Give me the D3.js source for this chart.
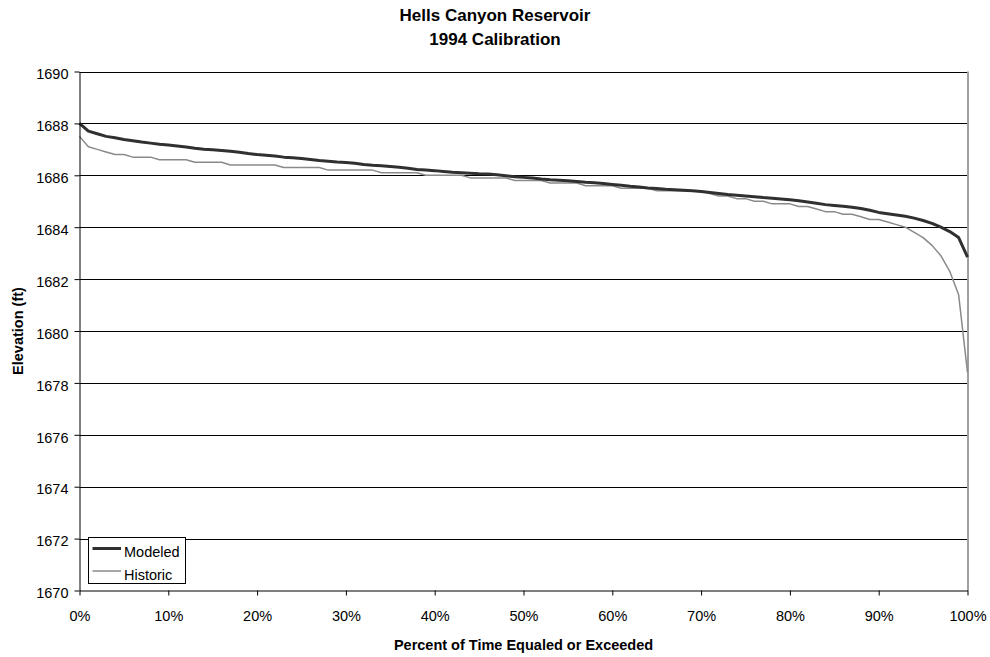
<!DOCTYPE html>
<html>
<head>
<meta charset="utf-8">
<script src="https://cdn.jsdelivr.net/npm/d3@7"></script>
<style>
  html, body { margin: 0; padding: 0; background: #fff; }
  svg { display: block; font-family: "Liberation Sans", Arial, sans-serif; }
</style>
</head>
<body>
<svg id="chart" width="990" height="657"></svg>
<script>
// ---- Data (percent of time equaled or exceeded, 0..100 step 1) ----
const percents = d3.range(0, 101);
const modeled = [
  1688.00, 1687.70, 1687.60, 1687.50, 1687.45, 1687.38, 1687.33, 1687.28, 1687.24, 1687.20,
  1687.17, 1687.13, 1687.09, 1687.04, 1687.00, 1686.98, 1686.96, 1686.93, 1686.89, 1686.84,
  1686.80, 1686.77, 1686.74, 1686.70, 1686.68, 1686.65, 1686.61, 1686.57, 1686.54, 1686.51,
  1686.49, 1686.46, 1686.42, 1686.39, 1686.37, 1686.34, 1686.31, 1686.27, 1686.22, 1686.20,
  1686.18, 1686.15, 1686.12, 1686.10, 1686.08, 1686.06, 1686.05, 1686.02, 1685.98, 1685.94,
  1685.92, 1685.90, 1685.86, 1685.83, 1685.81, 1685.79, 1685.76, 1685.73, 1685.71, 1685.68,
  1685.65, 1685.62, 1685.58, 1685.55, 1685.51, 1685.49, 1685.46, 1685.44, 1685.42, 1685.40,
  1685.38, 1685.34, 1685.30, 1685.26, 1685.23, 1685.20, 1685.17, 1685.14, 1685.12, 1685.09,
  1685.06, 1685.02, 1684.97, 1684.92, 1684.87, 1684.84, 1684.81, 1684.77, 1684.72, 1684.65,
  1684.57, 1684.52, 1684.47, 1684.42, 1684.35, 1684.26, 1684.15, 1684.00, 1683.83, 1683.60,
  1682.85
];
const historic = [
  1687.5, 1687.1, 1687.0, 1686.9, 1686.8, 1686.8, 1686.7, 1686.7, 1686.7, 1686.6,
  1686.6, 1686.6, 1686.6, 1686.5, 1686.5, 1686.5, 1686.5, 1686.4, 1686.4, 1686.4,
  1686.4, 1686.4, 1686.4, 1686.3, 1686.3, 1686.3, 1686.3, 1686.3, 1686.2, 1686.2,
  1686.2, 1686.2, 1686.2, 1686.2, 1686.1, 1686.1, 1686.1, 1686.1, 1686.1, 1686.0,
  1686.0, 1686.0, 1686.0, 1686.0, 1685.9, 1685.9, 1685.9, 1685.9, 1685.9, 1685.8,
  1685.8, 1685.8, 1685.8, 1685.7, 1685.7, 1685.7, 1685.7, 1685.6, 1685.6, 1685.6,
  1685.6, 1685.5, 1685.5, 1685.5, 1685.5, 1685.4, 1685.4, 1685.4, 1685.4, 1685.4,
  1685.4, 1685.3, 1685.2, 1685.2, 1685.1, 1685.1, 1685.0, 1685.0, 1684.9, 1684.9,
  1684.9, 1684.8, 1684.8, 1684.7, 1684.6, 1684.6, 1684.5, 1684.5, 1684.4, 1684.3,
  1684.3, 1684.2, 1684.1, 1684.0, 1683.8, 1683.6, 1683.3, 1682.9, 1682.3, 1681.4,
  1678.4
];
const yTicks = [1670, 1672, 1674, 1676, 1678, 1680, 1682, 1684, 1686, 1688, 1690];
const xTicks = [0, 10, 20, 30, 40, 50, 60, 70, 80, 90, 100];
const seriesNames = ["Modeled", "Historic"];
const titleLines = ["Hells Canyon Reservoir", "1994 Calibration"];
const xTitle = "Percent of Time Equaled or Exceeded";
const yTitle = "Elevation (ft)";

// ---- Layout ----
const svg = d3.select("#chart");
const L = 79.5, R = 967.5, T = 71.5, B = 590.5;
const x = d3.scaleLinear().domain([0, 100]).range([L, R]);
const y = d3.scaleLinear().domain([1670, 1690]).range([B, T]);

// gridlines
svg.append("g").selectAll("line").data(yTicks.filter(d => d > 1670)).join("line")
  .attr("x1", L).attr("x2", R)
  .attr("y1", d => Math.round(y(d)) + 0.5).attr("y2", d => Math.round(y(d)) + 0.5)
  .attr("stroke", "#000").attr("stroke-width", 1);

// right plot border
svg.append("line").attr("x1", R + 0.5).attr("x2", R + 0.5).attr("y1", T).attr("y2", B)
  .attr("stroke", "#a0a0a0").attr("stroke-width", 2);

// lines
const line = d3.line().x((d, i) => x(percents[i])).y(d => y(d));
svg.append("path").datum(historic).attr("d", line)
  .attr("fill", "none").attr("stroke", "#8a8a8a").attr("stroke-width", 1.5)
  .attr("stroke-linejoin", "round");
svg.append("path").datum(modeled).attr("d", line)
  .attr("fill", "none").attr("stroke", "#303030").attr("stroke-width", 3)
  .attr("stroke-linejoin", "round");

// axes
const yAxis = d3.axisLeft(y).tickValues(yTicks).tickFormat(d3.format("d"))
  .tickSize(5).tickPadding(6).tickSizeOuter(0);
const gy = svg.append("g").attr("transform", `translate(${L},0)`).call(yAxis);
gy.select(".domain").attr("stroke", "#000");
gy.selectAll(".tick line").attr("stroke", "#000");
gy.selectAll(".tick text").attr("font-size", "14.5px").attr("fill", "#000")
  .attr("font-family", "Liberation Sans, Arial, sans-serif").attr("dy", "0.5em");

const xAxis = d3.axisBottom(x).tickValues(xTicks).tickFormat(d => d + "%")
  .tickSize(5).tickPadding(15).tickSizeOuter(0);
const gx = svg.append("g").attr("transform", `translate(0,${B})`).call(xAxis);
gx.select(".domain").attr("stroke", "#000");
gx.selectAll(".tick line").attr("stroke", "#000");
gx.selectAll(".tick text").attr("font-size", "14.5px").attr("fill", "#000")
  .attr("font-family", "Liberation Sans, Arial, sans-serif");

// titles
svg.append("text").attr("x", 495).attr("y", 20.7).attr("text-anchor", "middle")
  .attr("font-size", "17px").attr("font-weight", "bold").text(titleLines[0]);
svg.append("text").attr("x", 495).attr("y", 45).attr("text-anchor", "middle")
  .attr("font-size", "17px").attr("font-weight", "bold").text(titleLines[1]);
svg.append("text").attr("x", (L + R) / 2).attr("y", 649.5).attr("text-anchor", "middle")
  .attr("font-size", "14.5px").attr("font-weight", "bold").text(xTitle);
svg.append("text").attr("transform", `translate(22.5,${(T + B) / 2}) rotate(-90)`)
  .attr("text-anchor", "middle")
  .attr("font-size", "14.5px").attr("font-weight", "bold").text(yTitle);

// legend
const lg = svg.append("g");
lg.append("rect").attr("x", 88.5).attr("y", 537.5).attr("width", 97).attr("height", 46)
  .attr("fill", "#fff").attr("stroke", "#000").attr("stroke-width", 1);
const legendStyles = [
  { color: "#303030", width: 3, ly: 548.5, ty: 557 },
  { color: "#8a8a8a", width: 1.5, ly: 571, ty: 580 }
];
seriesNames.forEach((name, i) => {
  const s = legendStyles[i];
  lg.append("line").attr("x1", 92.5).attr("x2", 121).attr("y1", s.ly).attr("y2", s.ly)
    .attr("stroke", s.color).attr("stroke-width", s.width);
  lg.append("text").attr("x", 124).attr("y", s.ty).attr("font-size", "14.5px").text(name);
});
</script>
</body>
</html>
